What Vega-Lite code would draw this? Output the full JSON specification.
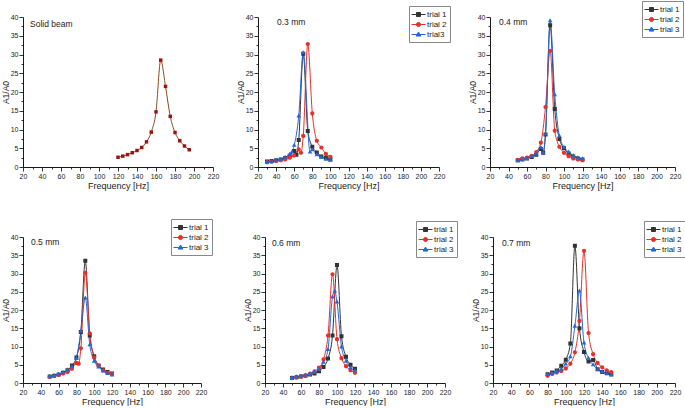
{
  "$schema": "https://vega.github.io/schema/vega-lite/v6.json",
  "background": "white",
  "padding": {"left": 1, "top": 0, "right": 0, "bottom": 0},
  "datasets": {
    "d": [
      {"p": "solid", "t": "solid", "f": 120, "a": 2.6}, {"p": "solid", "t": "solid", "f": 125, "a": 2.9},
      {"p": "solid", "t": "solid", "f": 130, "a": 3.3}, {"p": "solid", "t": "solid", "f": 135, "a": 3.8},
      {"p": "solid", "t": "solid", "f": 140, "a": 4.4}, {"p": "solid", "t": "solid", "f": 145, "a": 5.2},
      {"p": "solid", "t": "solid", "f": 150, "a": 6.7}, {"p": "solid", "t": "solid", "f": 155, "a": 9.3},
      {"p": "solid", "t": "solid", "f": 160, "a": 14.7}, {"p": "solid", "t": "solid", "f": 165, "a": 28.5},
      {"p": "solid", "t": "solid", "f": 170, "a": 21.5}, {"p": "solid", "t": "solid", "f": 175, "a": 13.5},
      {"p": "solid", "t": "solid", "f": 180, "a": 9.2}, {"p": "solid", "t": "solid", "f": 185, "a": 7.0},
      {"p": "solid", "t": "solid", "f": 190, "a": 5.6}, {"p": "solid", "t": "solid", "f": 195, "a": 4.6},

      {"p": "0.3", "t": "trial 1", "f": 30, "a": 1.5}, {"p": "0.3", "t": "trial 1", "f": 35, "a": 1.6},
      {"p": "0.3", "t": "trial 1", "f": 40, "a": 1.8}, {"p": "0.3", "t": "trial 1", "f": 45, "a": 2.0},
      {"p": "0.3", "t": "trial 1", "f": 50, "a": 2.4}, {"p": "0.3", "t": "trial 1", "f": 55, "a": 3.0},
      {"p": "0.3", "t": "trial 1", "f": 60, "a": 4.3}, {"p": "0.3", "t": "trial 1", "f": 62.5, "a": 3.3},
      {"p": "0.3", "t": "trial 1", "f": 65, "a": 7.2}, {"p": "0.3", "t": "trial 1", "f": 70, "a": 30.2},
      {"p": "0.3", "t": "trial 1", "f": 75, "a": 9.6}, {"p": "0.3", "t": "trial 1", "f": 80, "a": 5.4},
      {"p": "0.3", "t": "trial 1", "f": 85, "a": 3.9}, {"p": "0.3", "t": "trial 1", "f": 90, "a": 2.8},
      {"p": "0.3", "t": "trial 1", "f": 95, "a": 2.4}, {"p": "0.3", "t": "trial 1", "f": 100, "a": 2.1},
      {"p": "0.3", "t": "trial 2", "f": 30, "a": 1.3}, {"p": "0.3", "t": "trial 2", "f": 35, "a": 1.4},
      {"p": "0.3", "t": "trial 2", "f": 40, "a": 1.6}, {"p": "0.3", "t": "trial 2", "f": 45, "a": 1.8},
      {"p": "0.3", "t": "trial 2", "f": 50, "a": 2.0}, {"p": "0.3", "t": "trial 2", "f": 55, "a": 2.5},
      {"p": "0.3", "t": "trial 2", "f": 60, "a": 3.1}, {"p": "0.3", "t": "trial 2", "f": 65, "a": 4.7},
      {"p": "0.3", "t": "trial 2", "f": 67.5, "a": 3.8}, {"p": "0.3", "t": "trial 2", "f": 70, "a": 8.3},
      {"p": "0.3", "t": "trial 2", "f": 75, "a": 32.8}, {"p": "0.3", "t": "trial 2", "f": 80, "a": 14.3},
      {"p": "0.3", "t": "trial 2", "f": 85, "a": 7.0}, {"p": "0.3", "t": "trial 2", "f": 90, "a": 5.2},
      {"p": "0.3", "t": "trial 2", "f": 95, "a": 3.5}, {"p": "0.3", "t": "trial 2", "f": 100, "a": 2.7},
      {"p": "0.3", "t": "trial3", "f": 30, "a": 1.4}, {"p": "0.3", "t": "trial3", "f": 35, "a": 1.5},
      {"p": "0.3", "t": "trial3", "f": 40, "a": 1.8}, {"p": "0.3", "t": "trial3", "f": 45, "a": 2.1},
      {"p": "0.3", "t": "trial3", "f": 50, "a": 2.6}, {"p": "0.3", "t": "trial3", "f": 55, "a": 3.4},
      {"p": "0.3", "t": "trial3", "f": 57.5, "a": 4.0}, {"p": "0.3", "t": "trial3", "f": 60, "a": 5.8},
      {"p": "0.3", "t": "trial3", "f": 65, "a": 13.6}, {"p": "0.3", "t": "trial3", "f": 70, "a": 30.5},
      {"p": "0.3", "t": "trial3", "f": 77.5, "a": 4.0}, {"p": "0.3", "t": "trial3", "f": 80, "a": 4.6},
      {"p": "0.3", "t": "trial3", "f": 85, "a": 3.3}, {"p": "0.3", "t": "trial3", "f": 90, "a": 2.6},
      {"p": "0.3", "t": "trial3", "f": 95, "a": 2.1}, {"p": "0.3", "t": "trial3", "f": 100, "a": 1.8},

      {"p": "0.4", "t": "trial 1", "f": 50, "a": 1.8}, {"p": "0.4", "t": "trial 1", "f": 55, "a": 2.0},
      {"p": "0.4", "t": "trial 1", "f": 60, "a": 2.3}, {"p": "0.4", "t": "trial 1", "f": 65, "a": 2.7},
      {"p": "0.4", "t": "trial 1", "f": 70, "a": 3.3}, {"p": "0.4", "t": "trial 1", "f": 75, "a": 4.8},
      {"p": "0.4", "t": "trial 1", "f": 77.5, "a": 3.8}, {"p": "0.4", "t": "trial 1", "f": 80, "a": 8.7},
      {"p": "0.4", "t": "trial 1", "f": 85, "a": 37.8}, {"p": "0.4", "t": "trial 1", "f": 90, "a": 15.5},
      {"p": "0.4", "t": "trial 1", "f": 95, "a": 7.5}, {"p": "0.4", "t": "trial 1", "f": 100, "a": 5.0},
      {"p": "0.4", "t": "trial 1", "f": 105, "a": 3.6}, {"p": "0.4", "t": "trial 1", "f": 110, "a": 2.8},
      {"p": "0.4", "t": "trial 1", "f": 115, "a": 2.3}, {"p": "0.4", "t": "trial 1", "f": 120, "a": 2.0},
      {"p": "0.4", "t": "trial 2", "f": 50, "a": 1.9}, {"p": "0.4", "t": "trial 2", "f": 55, "a": 2.3},
      {"p": "0.4", "t": "trial 2", "f": 60, "a": 2.5}, {"p": "0.4", "t": "trial 2", "f": 65, "a": 3.0},
      {"p": "0.4", "t": "trial 2", "f": 70, "a": 4.0}, {"p": "0.4", "t": "trial 2", "f": 75, "a": 6.5},
      {"p": "0.4", "t": "trial 2", "f": 80, "a": 16.0}, {"p": "0.4", "t": "trial 2", "f": 85, "a": 31.0},
      {"p": "0.4", "t": "trial 2", "f": 90, "a": 9.7}, {"p": "0.4", "t": "trial 2", "f": 95, "a": 5.4},
      {"p": "0.4", "t": "trial 2", "f": 100, "a": 3.8}, {"p": "0.4", "t": "trial 2", "f": 105, "a": 2.9},
      {"p": "0.4", "t": "trial 2", "f": 110, "a": 2.3}, {"p": "0.4", "t": "trial 2", "f": 115, "a": 2.0},
      {"p": "0.4", "t": "trial 2", "f": 120, "a": 1.8},
      {"p": "0.4", "t": "trial 3", "f": 50, "a": 1.7}, {"p": "0.4", "t": "trial 3", "f": 55, "a": 2.0},
      {"p": "0.4", "t": "trial 3", "f": 60, "a": 2.3}, {"p": "0.4", "t": "trial 3", "f": 65, "a": 2.8},
      {"p": "0.4", "t": "trial 3", "f": 70, "a": 3.5}, {"p": "0.4", "t": "trial 3", "f": 75, "a": 5.2},
      {"p": "0.4", "t": "trial 3", "f": 77.5, "a": 3.8}, {"p": "0.4", "t": "trial 3", "f": 80, "a": 8.8},
      {"p": "0.4", "t": "trial 3", "f": 85, "a": 39.0}, {"p": "0.4", "t": "trial 3", "f": 90, "a": 19.3},
      {"p": "0.4", "t": "trial 3", "f": 95, "a": 8.3}, {"p": "0.4", "t": "trial 3", "f": 100, "a": 5.3},
      {"p": "0.4", "t": "trial 3", "f": 105, "a": 4.0}, {"p": "0.4", "t": "trial 3", "f": 110, "a": 3.1},
      {"p": "0.4", "t": "trial 3", "f": 115, "a": 2.5}, {"p": "0.4", "t": "trial 3", "f": 120, "a": 2.2},

      {"p": "0.5", "t": "trial 1", "f": 50, "a": 1.8}, {"p": "0.5", "t": "trial 1", "f": 55, "a": 2.0},
      {"p": "0.5", "t": "trial 1", "f": 60, "a": 2.3}, {"p": "0.5", "t": "trial 1", "f": 65, "a": 2.8},
      {"p": "0.5", "t": "trial 1", "f": 70, "a": 3.5}, {"p": "0.5", "t": "trial 1", "f": 75, "a": 4.8},
      {"p": "0.5", "t": "trial 1", "f": 80, "a": 7.0}, {"p": "0.5", "t": "trial 1", "f": 85, "a": 14.0},
      {"p": "0.5", "t": "trial 1", "f": 90, "a": 33.5}, {"p": "0.5", "t": "trial 1", "f": 95, "a": 13.0},
      {"p": "0.5", "t": "trial 1", "f": 100, "a": 7.3}, {"p": "0.5", "t": "trial 1", "f": 105, "a": 4.8},
      {"p": "0.5", "t": "trial 1", "f": 110, "a": 3.7}, {"p": "0.5", "t": "trial 1", "f": 115, "a": 3.0},
      {"p": "0.5", "t": "trial 1", "f": 120, "a": 2.6},
      {"p": "0.5", "t": "trial 2", "f": 50, "a": 1.7}, {"p": "0.5", "t": "trial 2", "f": 55, "a": 1.9},
      {"p": "0.5", "t": "trial 2", "f": 60, "a": 2.2}, {"p": "0.5", "t": "trial 2", "f": 65, "a": 2.6},
      {"p": "0.5", "t": "trial 2", "f": 70, "a": 3.0}, {"p": "0.5", "t": "trial 2", "f": 75, "a": 3.9},
      {"p": "0.5", "t": "trial 2", "f": 80, "a": 5.5}, {"p": "0.5", "t": "trial 2", "f": 82.5, "a": 5.3},
      {"p": "0.5", "t": "trial 2", "f": 85, "a": 9.5}, {"p": "0.5", "t": "trial 2", "f": 90, "a": 30.2},
      {"p": "0.5", "t": "trial 2", "f": 95, "a": 13.6}, {"p": "0.5", "t": "trial 2", "f": 100, "a": 7.0},
      {"p": "0.5", "t": "trial 2", "f": 105, "a": 4.7}, {"p": "0.5", "t": "trial 2", "f": 110, "a": 3.5},
      {"p": "0.5", "t": "trial 2", "f": 115, "a": 2.8}, {"p": "0.5", "t": "trial 2", "f": 120, "a": 2.5},
      {"p": "0.5", "t": "trial 3", "f": 50, "a": 1.8}, {"p": "0.5", "t": "trial 3", "f": 55, "a": 2.1},
      {"p": "0.5", "t": "trial 3", "f": 60, "a": 2.4}, {"p": "0.5", "t": "trial 3", "f": 65, "a": 2.9},
      {"p": "0.5", "t": "trial 3", "f": 70, "a": 3.6}, {"p": "0.5", "t": "trial 3", "f": 75, "a": 4.5},
      {"p": "0.5", "t": "trial 3", "f": 80, "a": 6.8}, {"p": "0.5", "t": "trial 3", "f": 85, "a": 14.2},
      {"p": "0.5", "t": "trial 3", "f": 90, "a": 23.3}, {"p": "0.5", "t": "trial 3", "f": 95, "a": 10.5},
      {"p": "0.5", "t": "trial 3", "f": 100, "a": 6.0}, {"p": "0.5", "t": "trial 3", "f": 105, "a": 4.4},
      {"p": "0.5", "t": "trial 3", "f": 110, "a": 3.3}, {"p": "0.5", "t": "trial 3", "f": 115, "a": 2.6},
      {"p": "0.5", "t": "trial 3", "f": 120, "a": 2.2},

      {"p": "0.6", "t": "trial 1", "f": 50, "a": 1.4}, {"p": "0.6", "t": "trial 1", "f": 55, "a": 1.6},
      {"p": "0.6", "t": "trial 1", "f": 60, "a": 1.8}, {"p": "0.6", "t": "trial 1", "f": 65, "a": 2.0},
      {"p": "0.6", "t": "trial 1", "f": 70, "a": 2.3}, {"p": "0.6", "t": "trial 1", "f": 75, "a": 2.6},
      {"p": "0.6", "t": "trial 1", "f": 80, "a": 3.2}, {"p": "0.6", "t": "trial 1", "f": 85, "a": 4.4},
      {"p": "0.6", "t": "trial 1", "f": 90, "a": 6.7}, {"p": "0.6", "t": "trial 1", "f": 95, "a": 13.0},
      {"p": "0.6", "t": "trial 1", "f": 100, "a": 32.3}, {"p": "0.6", "t": "trial 1", "f": 105, "a": 12.8},
      {"p": "0.6", "t": "trial 1", "f": 110, "a": 7.2}, {"p": "0.6", "t": "trial 1", "f": 115, "a": 5.0},
      {"p": "0.6", "t": "trial 1", "f": 120, "a": 3.9},
      {"p": "0.6", "t": "trial 2", "f": 50, "a": 1.3}, {"p": "0.6", "t": "trial 2", "f": 55, "a": 1.5},
      {"p": "0.6", "t": "trial 2", "f": 60, "a": 1.8}, {"p": "0.6", "t": "trial 2", "f": 65, "a": 2.1},
      {"p": "0.6", "t": "trial 2", "f": 70, "a": 2.5}, {"p": "0.6", "t": "trial 2", "f": 75, "a": 3.2},
      {"p": "0.6", "t": "trial 2", "f": 80, "a": 4.2}, {"p": "0.6", "t": "trial 2", "f": 85, "a": 6.5},
      {"p": "0.6", "t": "trial 2", "f": 90, "a": 13.0}, {"p": "0.6", "t": "trial 2", "f": 95, "a": 29.8},
      {"p": "0.6", "t": "trial 2", "f": 100, "a": 12.0}, {"p": "0.6", "t": "trial 2", "f": 105, "a": 6.8},
      {"p": "0.6", "t": "trial 2", "f": 110, "a": 4.6}, {"p": "0.6", "t": "trial 2", "f": 115, "a": 3.5},
      {"p": "0.6", "t": "trial 2", "f": 120, "a": 2.8},
      {"p": "0.6", "t": "trial 3", "f": 50, "a": 1.5}, {"p": "0.6", "t": "trial 3", "f": 55, "a": 1.7},
      {"p": "0.6", "t": "trial 3", "f": 60, "a": 1.9}, {"p": "0.6", "t": "trial 3", "f": 65, "a": 2.2},
      {"p": "0.6", "t": "trial 3", "f": 70, "a": 2.6}, {"p": "0.6", "t": "trial 3", "f": 75, "a": 3.0},
      {"p": "0.6", "t": "trial 3", "f": 80, "a": 3.7}, {"p": "0.6", "t": "trial 3", "f": 85, "a": 5.7},
      {"p": "0.6", "t": "trial 3", "f": 90, "a": 9.2}, {"p": "0.6", "t": "trial 3", "f": 95, "a": 23.6},
      {"p": "0.6", "t": "trial 3", "f": 97.5, "a": 25.2}, {"p": "0.6", "t": "trial 3", "f": 100, "a": 22.2},
      {"p": "0.6", "t": "trial 3", "f": 105, "a": 9.9}, {"p": "0.6", "t": "trial 3", "f": 110, "a": 6.0},
      {"p": "0.6", "t": "trial 3", "f": 115, "a": 4.2}, {"p": "0.6", "t": "trial 3", "f": 120, "a": 3.4},

      {"p": "0.7", "t": "trial 1", "f": 80, "a": 2.4}, {"p": "0.7", "t": "trial 1", "f": 85, "a": 2.9},
      {"p": "0.7", "t": "trial 1", "f": 90, "a": 3.4}, {"p": "0.7", "t": "trial 1", "f": 95, "a": 4.7},
      {"p": "0.7", "t": "trial 1", "f": 100, "a": 6.4}, {"p": "0.7", "t": "trial 1", "f": 105, "a": 10.8},
      {"p": "0.7", "t": "trial 1", "f": 110, "a": 37.6}, {"p": "0.7", "t": "trial 1", "f": 115, "a": 15.0},
      {"p": "0.7", "t": "trial 1", "f": 120, "a": 8.5}, {"p": "0.7", "t": "trial 1", "f": 125, "a": 5.9},
      {"p": "0.7", "t": "trial 1", "f": 130, "a": 6.3}, {"p": "0.7", "t": "trial 1", "f": 135, "a": 3.8},
      {"p": "0.7", "t": "trial 1", "f": 140, "a": 3.0}, {"p": "0.7", "t": "trial 1", "f": 145, "a": 2.7},
      {"p": "0.7", "t": "trial 1", "f": 150, "a": 2.4},
      {"p": "0.7", "t": "trial 2", "f": 80, "a": 2.0}, {"p": "0.7", "t": "trial 2", "f": 85, "a": 2.5},
      {"p": "0.7", "t": "trial 2", "f": 90, "a": 2.9}, {"p": "0.7", "t": "trial 2", "f": 95, "a": 3.3},
      {"p": "0.7", "t": "trial 2", "f": 100, "a": 4.0}, {"p": "0.7", "t": "trial 2", "f": 105, "a": 5.3},
      {"p": "0.7", "t": "trial 2", "f": 110, "a": 8.4}, {"p": "0.7", "t": "trial 2", "f": 115, "a": 17.0},
      {"p": "0.7", "t": "trial 2", "f": 120, "a": 36.2}, {"p": "0.7", "t": "trial 2", "f": 125, "a": 13.7},
      {"p": "0.7", "t": "trial 2", "f": 130, "a": 7.9}, {"p": "0.7", "t": "trial 2", "f": 135, "a": 5.5},
      {"p": "0.7", "t": "trial 2", "f": 140, "a": 4.3}, {"p": "0.7", "t": "trial 2", "f": 145, "a": 3.5},
      {"p": "0.7", "t": "trial 2", "f": 150, "a": 3.0},
      {"p": "0.7", "t": "trial 3", "f": 80, "a": 2.4}, {"p": "0.7", "t": "trial 3", "f": 85, "a": 2.7},
      {"p": "0.7", "t": "trial 3", "f": 90, "a": 3.2}, {"p": "0.7", "t": "trial 3", "f": 95, "a": 3.8},
      {"p": "0.7", "t": "trial 3", "f": 100, "a": 5.2}, {"p": "0.7", "t": "trial 3", "f": 105, "a": 7.2},
      {"p": "0.7", "t": "trial 3", "f": 110, "a": 15.6}, {"p": "0.7", "t": "trial 3", "f": 115, "a": 25.2},
      {"p": "0.7", "t": "trial 3", "f": 120, "a": 11.0}, {"p": "0.7", "t": "trial 3", "f": 125, "a": 6.8},
      {"p": "0.7", "t": "trial 3", "f": 130, "a": 5.0}, {"p": "0.7", "t": "trial 3", "f": 135, "a": 3.8},
      {"p": "0.7", "t": "trial 3", "f": 140, "a": 3.1}, {"p": "0.7", "t": "trial 3", "f": 145, "a": 2.6},
      {"p": "0.7", "t": "trial 3", "f": 150, "a": 2.2}
    ]
  },
  "data": {"name": "d"},
  "spacing": 28,
  "resolve": {"scale": {"color": "independent", "shape": "independent"}, "legend": {"color": "independent", "shape": "independent"}},
  "vconcat": [
    {
      "bounds": "flush",
      "spacing": 45,
      "resolve": {"scale": {"color": "independent", "shape": "independent"}, "legend": {"color": "independent", "shape": "independent"}},
      "hconcat": [
        {
          "width": 190,
          "height": 150,
          "title": {"text": "Solid beam", "dx": 7, "offset": -15},
          "transform": [{"filter": "datum.p == 'solid'"}],
          "encoding": {
            "x": {"field": "f", "type": "quantitative", "title": "Frequency [Hz]", "scale": {"domain": [20, 220], "nice": false},
              "axis": {"values": [20, 30, 40, 50, 60, 70, 80, 90, 100, 110, 120, 130, 140, 150, 160, 170, 180, 190, 200, 210, 220], "labelExpr": "datum.value % 20 == 0 ? datum.label : ''", "tickSize": {"condition": {"test": "datum.value % 20 == 0", "value": 4}, "value": 2}}},
            "y": {"field": "a", "type": "quantitative", "title": "A1/A0", "scale": {"domain": [0, 40], "nice": false},
              "axis": {"values": [0, 2.5, 5, 7.5, 10, 12.5, 15, 17.5, 20, 22.5, 25, 27.5, 30, 32.5, 35, 37.5, 40], "labelExpr": "datum.value % 5 == 0 ? datum.label : ''", "tickSize": {"condition": {"test": "datum.value % 5 == 0", "value": 4}, "value": 2}}}
          },
          "layer": [
            {"mark": {"type": "line", "interpolate": "monotone", "strokeWidth": 1, "color": "#8a4a1e"}},
            {"mark": {"type": "point", "filled": true, "shape": "square", "size": 12, "opacity": 1, "color": "#9a1212"}}
          ]
        },
        {
          "bounds": "flush",
          "spacing": 51,
          "resolve": {"scale": {"color": "independent", "shape": "independent"}, "legend": {"color": "independent", "shape": "independent"}},
          "hconcat": [
            {
              "width": 181,
              "height": 150,
              "title": {"text": "0.3 mm", "dx": 19, "offset": -21},
              "transform": [{"filter": "datum.p == '0.3'"}],
              "encoding": {
                "x": {"field": "f", "type": "quantitative", "title": "Frequency [Hz]", "scale": {"domain": [20, 220], "nice": false},
                  "axis": {"values": [20, 30, 40, 50, 60, 70, 80, 90, 100, 110, 120, 130, 140, 150, 160, 170, 180, 190, 200, 210, 220], "labelExpr": "datum.value % 20 == 0 ? datum.label : ''", "tickSize": {"condition": {"test": "datum.value % 20 == 0", "value": 4}, "value": 2}}},
                "y": {"field": "a", "type": "quantitative", "title": "A1/A0", "scale": {"domain": [0, 40], "nice": false},
                  "axis": {"values": [0, 2.5, 5, 7.5, 10, 12.5, 15, 17.5, 20, 22.5, 25, 27.5, 30, 32.5, 35, 37.5, 40], "labelExpr": "datum.value % 5 == 0 ? datum.label : ''", "tickSize": {"condition": {"test": "datum.value % 5 == 0", "value": 4}, "value": 2}}},
                "color": {"field": "t", "type": "nominal", "scale": {"domain": ["trial 1", "trial 2", "trial3"], "range": ["#333333", "#e8302a", "#2468d8"]},
                  "legend": {"legendX": 151, "legendY": -11}}
              },
              "layer": [
                {"mark": {"type": "line", "interpolate": "monotone", "strokeWidth": 1}},
                {"mark": {"type": "point", "filled": true, "size": 100, "opacity": 1},
                  "encoding": {"shape": {"field": "t", "type": "nominal", "scale": {"domain": ["trial 1", "trial 2", "trial3"], "range": ["M-1.4,0H1.4M-0.4,-0.4H0.4V0.4H-0.4Z", "M-1.4,0H1.4M-0.42,0A0.42,0.42,0,1,0,0.42,0A0.42,0.42,0,1,0,-0.42,0Z", "M-1.4,0H1.4M0,-0.5L0.46,0.32H-0.46Z"]}, "legend": {"legendX": 151, "legendY": -11}}}}
              ]
            },
            {
              "width": 185,
              "height": 150,
              "title": {"text": "0.4 mm", "dx": 9, "offset": -26},
              "transform": [{"filter": "datum.p == '0.4'"}],
              "encoding": {
                "x": {"field": "f", "type": "quantitative", "title": "Frequency [Hz]", "scale": {"domain": [20, 220], "nice": false},
                  "axis": {"values": [20, 30, 40, 50, 60, 70, 80, 90, 100, 110, 120, 130, 140, 150, 160, 170, 180, 190, 200, 210, 220], "labelExpr": "datum.value % 20 == 0 ? datum.label : ''", "tickSize": {"condition": {"test": "datum.value % 20 == 0", "value": 4}, "value": 2}}},
                "y": {"field": "a", "type": "quantitative", "title": "A1/A0", "scale": {"domain": [0, 40], "nice": false},
                  "axis": {"values": [0, 2.5, 5, 7.5, 10, 12.5, 15, 17.5, 20, 22.5, 25, 27.5, 30, 32.5, 35, 37.5, 40], "labelExpr": "datum.value % 5 == 0 ? datum.label : ''", "tickSize": {"condition": {"test": "datum.value % 5 == 0", "value": 4}, "value": 2}}},
                "color": {"field": "t", "type": "nominal", "scale": {"domain": ["trial 1", "trial 2", "trial 3"], "range": ["#333333", "#e8302a", "#2468d8"]},
                  "legend": {"legendX": 152, "legendY": -16}}
              },
              "layer": [
                {"mark": {"type": "line", "interpolate": "monotone", "strokeWidth": 1}},
                {"mark": {"type": "point", "filled": true, "size": 100, "opacity": 1},
                  "encoding": {"shape": {"field": "t", "type": "nominal", "scale": {"domain": ["trial 1", "trial 2", "trial 3"], "range": ["M-1.4,0H1.4M-0.4,-0.4H0.4V0.4H-0.4Z", "M-1.4,0H1.4M-0.42,0A0.42,0.42,0,1,0,0.42,0A0.42,0.42,0,1,0,-0.42,0Z", "M-1.4,0H1.4M0,-0.5L0.46,0.32H-0.46Z"]}, "legend": {"legendX": 152, "legendY": -16}}}}
              ]
            }
          ]
        }
      ]
    },
    {
      "bounds": "flush",
      "spacing": 64,
      "resolve": {"scale": {"color": "independent", "shape": "independent"}, "legend": {"color": "independent", "shape": "independent"}},
      "hconcat": [
        {
          "width": 178,
          "height": 146,
          "title": {"text": "0.5 mm", "dx": 8, "offset": -28},
          "transform": [{"filter": "datum.p == '0.5'"}],
          "encoding": {
            "x": {"field": "f", "type": "quantitative", "title": "Frequency [Hz]", "scale": {"domain": [20, 220], "nice": false},
              "axis": {"values": [20, 30, 40, 50, 60, 70, 80, 90, 100, 110, 120, 130, 140, 150, 160, 170, 180, 190, 200, 210, 220], "labelExpr": "datum.value % 20 == 0 ? datum.label : ''", "tickSize": {"condition": {"test": "datum.value % 20 == 0", "value": 4}, "value": 2}}},
            "y": {"field": "a", "type": "quantitative", "title": "A1/A0", "scale": {"domain": [0, 40], "nice": false},
              "axis": {"values": [0, 2.5, 5, 7.5, 10, 12.5, 15, 17.5, 20, 22.5, 25, 27.5, 30, 32.5, 35, 37.5, 40], "labelExpr": "datum.value % 5 == 0 ? datum.label : ''", "tickSize": {"condition": {"test": "datum.value % 5 == 0", "value": 4}, "value": 2}}},
            "color": {"field": "t", "type": "nominal", "scale": {"domain": ["trial 1", "trial 2", "trial 3"], "range": ["#333333", "#e8302a", "#2468d8"]},
              "legend": {"legendX": 148, "legendY": -18}}
          },
          "layer": [
            {"mark": {"type": "line", "interpolate": "monotone", "strokeWidth": 1}},
            {"mark": {"type": "point", "filled": true, "size": 100, "opacity": 1},
              "encoding": {"shape": {"field": "t", "type": "nominal", "scale": {"domain": ["trial 1", "trial 2", "trial 3"], "range": ["M-1.4,0H1.4M-0.4,-0.4H0.4V0.4H-0.4Z", "M-1.4,0H1.4M-0.42,0A0.42,0.42,0,1,0,0.42,0A0.42,0.42,0,1,0,-0.42,0Z", "M-1.4,0H1.4M0,-0.5L0.46,0.32H-0.46Z"]}, "legend": {"legendX": 148, "legendY": -18}}}}
          ]
        },
        {
          "bounds": "flush",
          "spacing": 48,
          "resolve": {"scale": {"color": "independent", "shape": "independent"}, "legend": {"color": "independent", "shape": "independent"}},
          "hconcat": [
            {
              "width": 180,
              "height": 146,
              "title": {"text": "0.6 mm", "dx": 7, "offset": -27},
              "transform": [{"filter": "datum.p == '0.6'"}],
              "encoding": {
                "x": {"field": "f", "type": "quantitative", "title": "Frequency [Hz]", "scale": {"domain": [20, 220], "nice": false},
                  "axis": {"values": [20, 30, 40, 50, 60, 70, 80, 90, 100, 110, 120, 130, 140, 150, 160, 170, 180, 190, 200, 210, 220], "labelExpr": "datum.value % 20 == 0 ? datum.label : ''", "tickSize": {"condition": {"test": "datum.value % 20 == 0", "value": 4}, "value": 2}}},
                "y": {"field": "a", "type": "quantitative", "title": "A1/A0", "scale": {"domain": [0, 40], "nice": false},
                  "axis": {"values": [0, 2.5, 5, 7.5, 10, 12.5, 15, 17.5, 20, 22.5, 25, 27.5, 30, 32.5, 35, 37.5, 40], "labelExpr": "datum.value % 5 == 0 ? datum.label : ''", "tickSize": {"condition": {"test": "datum.value % 5 == 0", "value": 4}, "value": 2}}},
                "color": {"field": "t", "type": "nominal", "scale": {"domain": ["trial 1", "trial 2", "trial 3"], "range": ["#333333", "#e8302a", "#2468d8"]},
                  "legend": {"legendX": 151, "legendY": -16}}
              },
              "layer": [
                {"mark": {"type": "line", "interpolate": "monotone", "strokeWidth": 1}},
                {"mark": {"type": "point", "filled": true, "size": 100, "opacity": 1},
                  "encoding": {"shape": {"field": "t", "type": "nominal", "scale": {"domain": ["trial 1", "trial 2", "trial 3"], "range": ["M-1.4,0H1.4M-0.4,-0.4H0.4V0.4H-0.4Z", "M-1.4,0H1.4M-0.42,0A0.42,0.42,0,1,0,0.42,0A0.42,0.42,0,1,0,-0.42,0Z", "M-1.4,0H1.4M0,-0.5L0.46,0.32H-0.46Z"]}, "legend": {"legendX": 151, "legendY": -16}}}}
              ]
            },
            {
              "width": 182,
              "height": 146,
              "title": {"text": "0.7 mm", "dx": 9, "offset": -27},
              "transform": [{"filter": "datum.p == '0.7'"}],
              "encoding": {
                "x": {"field": "f", "type": "quantitative", "title": "Frequency [Hz]", "scale": {"domain": [20, 220], "nice": false},
                  "axis": {"values": [20, 30, 40, 50, 60, 70, 80, 90, 100, 110, 120, 130, 140, 150, 160, 170, 180, 190, 200, 210, 220], "labelExpr": "datum.value % 20 == 0 ? datum.label : ''", "tickSize": {"condition": {"test": "datum.value % 20 == 0", "value": 4}, "value": 2}}},
                "y": {"field": "a", "type": "quantitative", "title": "A1/A0", "scale": {"domain": [0, 40], "nice": false},
                  "axis": {"values": [0, 2.5, 5, 7.5, 10, 12.5, 15, 17.5, 20, 22.5, 25, 27.5, 30, 32.5, 35, 37.5, 40], "labelExpr": "datum.value % 5 == 0 ? datum.label : ''", "tickSize": {"condition": {"test": "datum.value % 5 == 0", "value": 4}, "value": 2}}},
                "color": {"field": "t", "type": "nominal", "scale": {"domain": ["trial 1", "trial 2", "trial 3"], "range": ["#333333", "#e8302a", "#2468d8"]},
                  "legend": {"legendX": 151, "legendY": -16}}
              },
              "layer": [
                {"mark": {"type": "line", "interpolate": "monotone", "strokeWidth": 1}},
                {"mark": {"type": "point", "filled": true, "size": 100, "opacity": 1},
                  "encoding": {"shape": {"field": "t", "type": "nominal", "scale": {"domain": ["trial 1", "trial 2", "trial 3"], "range": ["M-1.4,0H1.4M-0.4,-0.4H0.4V0.4H-0.4Z", "M-1.4,0H1.4M-0.42,0A0.42,0.42,0,1,0,0.42,0A0.42,0.42,0,1,0,-0.42,0Z", "M-1.4,0H1.4M0,-0.5L0.46,0.32H-0.46Z"]}, "legend": {"legendX": 151, "legendY": -16}}}}
              ]
            }
          ]
        }
      ]
    }
  ],
  "config": {
    "font": "Liberation Sans",
    "view": {"stroke": null},
    "title": {"anchor": "start", "frame": "group", "fontSize": 8.5, "fontWeight": "normal", "color": "#222"},
    "axis": {"grid": false, "domainColor": "#000", "tickColor": "#000", "labelColor": "#222", "titleColor": "#222", "labelFontSize": 7, "titleFontSize": 9, "titleFontWeight": "normal", "labelPadding": 1, "labelOverlap": false, "labelFlush": false, "tickWidth": 0.8, "domainWidth": 0.9},
    "axisX": {"titlePadding": 2},
    "axisY": {"titlePadding": 0, "titleFontSize": 8.5},
    "legend": {"orient": "none", "title": null, "strokeColor": "#888", "fillColor": "#fff", "padding": 3, "labelFontSize": 8, "labelColor": "#222", "symbolSize": 100, "symbolStrokeWidth": 1, "symbolOffset": 1, "rowPadding": 0, "labelOffset": 3}
  }
}
